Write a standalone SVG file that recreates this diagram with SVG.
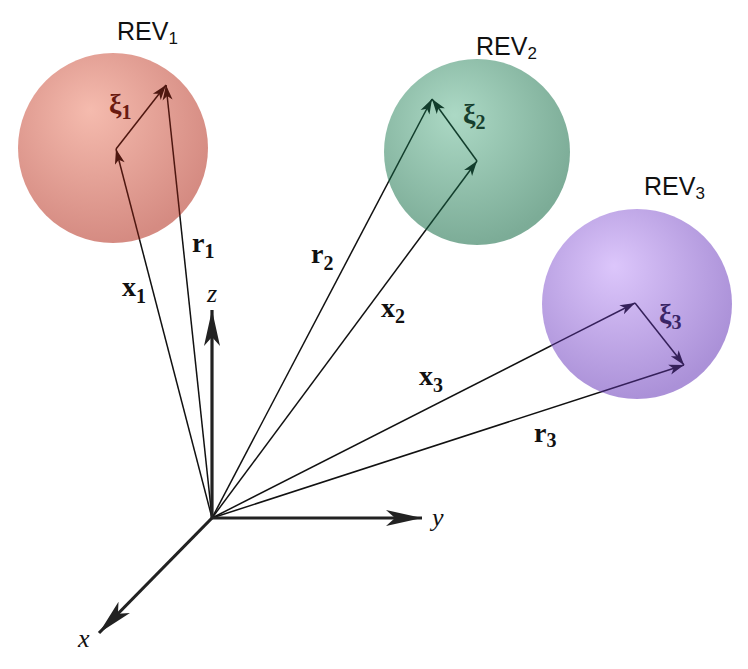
<svg xmlns="http://www.w3.org/2000/svg" width="748" height="669" viewBox="0 0 748 669">
<style>
.rev{font-family:"Liberation Sans",Arial,sans-serif;font-size:25px;fill:#111}
.rev tspan{font-size:17px}
.vl{font-family:"Liberation Serif","Times New Roman",serif;font-weight:bold;font-size:28px;fill:#111}
.vl tspan{font-size:20px}
.ax{font-family:"Liberation Serif","Times New Roman",serif;font-style:italic;font-size:26px;fill:#111}
.vec{fill:none;stroke:#111;stroke-width:1.5}
.axis{fill:none;stroke:#222;stroke-width:3.2}
</style>
<defs>
<radialGradient id="g1" cx="0.42" cy="0.38" r="0.62" fx="0.38" fy="0.3">
<stop offset="0" stop-color="#f5bbae"/><stop offset="1" stop-color="#d58b82"/></radialGradient>
<radialGradient id="g2" cx="0.42" cy="0.38" r="0.62" fx="0.38" fy="0.3">
<stop offset="0" stop-color="#acd9c5"/><stop offset="1" stop-color="#7cac97"/></radialGradient>
<radialGradient id="g3" cx="0.42" cy="0.38" r="0.62" fx="0.38" fy="0.3">
<stop offset="0" stop-color="#dcc6fb"/><stop offset="1" stop-color="#ab91d8"/></radialGradient>
<clipPath id="c1"><circle cx="113" cy="148" r="95"/></clipPath>
<clipPath id="c2"><circle cx="477" cy="152" r="93"/></clipPath>
<clipPath id="c3"><circle cx="637" cy="304" r="95"/></clipPath>
<marker id="m1" markerUnits="userSpaceOnUse" viewBox="-16 -6 17 12" markerWidth="17" markerHeight="12" refX="0" refY="0" orient="auto"><path d="M0,0 L-15,-5 L-11,0 L-15,5 Z" fill="#4e1710"/></marker>
<marker id="m2" markerUnits="userSpaceOnUse" viewBox="-16 -6 17 12" markerWidth="17" markerHeight="12" refX="0" refY="0" orient="auto"><path d="M0,0 L-15,-5 L-11,0 L-15,5 Z" fill="#123d2c"/></marker>
<marker id="m3" markerUnits="userSpaceOnUse" viewBox="-16 -6 17 12" markerWidth="17" markerHeight="12" refX="0" refY="0" orient="auto"><path d="M0,0 L-15,-5 L-11,0 L-15,5 Z" fill="#35205a"/></marker>
<marker id="ma" markerUnits="userSpaceOnUse" viewBox="-38 -9 39 18" markerWidth="39" markerHeight="18" refX="0" refY="0" orient="auto"><path d="M0,0 L-36,-8 L-27,0 L-36,8 Z" fill="#222"/></marker>
</defs>
<g id="connectors-under">
<path class="vec" d="M212,518 L116,149"/>
<path class="vec" d="M212,518 L166,85"/>
<path class="vec" d="M212,518 L477,161"/>
<path class="vec" d="M212,518 L432,99"/>
<path class="vec" d="M212,518 L635,303"/>
<path class="vec" d="M212,518 L684,365"/>
</g>
<g id="rev1"><circle cx="113" cy="148" r="95" fill="url(#g1)"/><text class="rev" x="117" y="40">REV<tspan dy="4">1</tspan></text></g>
<g id="rev2"><circle cx="477" cy="152" r="93" fill="url(#g2)"/><text class="rev" x="476" y="55">REV<tspan dy="4">2</tspan></text></g>
<g id="rev3"><circle cx="637" cy="304" r="95" fill="url(#g3)"/><text class="rev" x="644" y="195">REV<tspan dy="4">3</tspan></text></g>
<g id="connectors">
<g clip-path="url(#c1)" stroke="#4e1710" stroke-width="1.5" fill="none">
<path d="M212,518 L116,149" marker-end="url(#m1)"/>
<path d="M212,518 L166,85" marker-end="url(#m1)"/>
<path d="M116,149 L166,85" marker-end="url(#m1)"/>
</g>
<g clip-path="url(#c2)" stroke="#123d2c" stroke-width="1.5" fill="none">
<path d="M212,518 L477,161" marker-end="url(#m2)"/>
<path d="M212,518 L432,99" marker-end="url(#m2)"/>
<path d="M477,161 L432,99" marker-end="url(#m2)"/>
</g>
<g clip-path="url(#c3)" stroke="#35205a" stroke-width="1.5" fill="none">
<path d="M212,518 L635,303" marker-end="url(#m3)"/>
<path d="M212,518 L684,365" marker-end="url(#m3)"/>
<path d="M635,303 L684,365" marker-end="url(#m3)"/>
</g>
<path class="axis" d="M212,518 L212,310" marker-end="url(#ma)"/>
<path class="axis" d="M212,518 L422,518" marker-end="url(#ma)"/>
<path class="axis" d="M212,518 L99,633" marker-end="url(#ma)"/>
</g>
<g id="labels">
<text class="vl" x="109" y="113" style="fill:#6a1a10">ξ<tspan dy="6">1</tspan></text>
<text class="vl" x="463" y="123" style="fill:#173f2e">ξ<tspan dy="6">2</tspan></text>
<text class="vl" x="659" y="323" style="fill:#3a2566">ξ<tspan dy="6">3</tspan></text>
<text class="vl" x="122" y="296">x<tspan dy="7">1</tspan></text>
<text class="vl" x="192" y="252">r<tspan dy="6">1</tspan></text>
<text class="vl" x="311" y="263">r<tspan dy="7">2</tspan></text>
<text class="vl" x="381" y="317">x<tspan dy="6">2</tspan></text>
<text class="vl" x="419" y="385">x<tspan dy="7">3</tspan></text>
<text class="vl" x="534" y="442">r<tspan dy="5">3</tspan></text>
<text class="ax" x="207" y="302">z</text>
<text class="ax" x="432" y="526">y</text>
<text class="ax" x="78" y="647">x</text>
</g>
</svg>
